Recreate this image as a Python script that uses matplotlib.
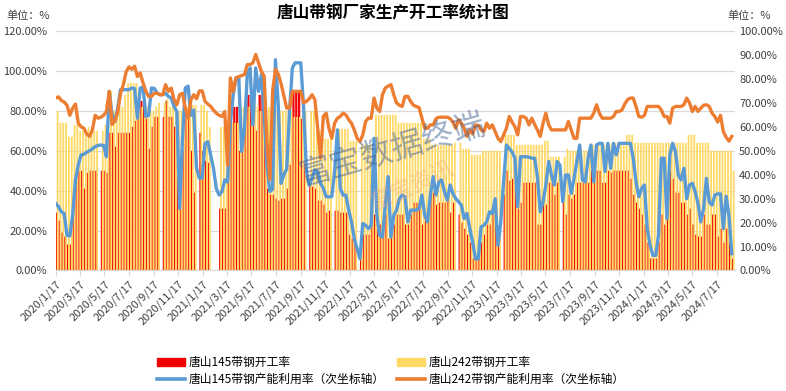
import matplotlib
matplotlib.use('Agg')
import matplotlib.pyplot as plt
import pandas as pd
from matplotlib.patches import Patch
from matplotlib.lines import Line2D
from matplotlib.ticker import FuncFormatter, MultipleLocator

plt.rcParams['font.family'] = ['Noto Sans CJK SC', 'DejaVu Sans']

# weekly data from 2020/1/17
start_date = '2020-01-17'

# 唐山145带钢开工率 (left axis, %)
rate_145 = [
    29, 25, 19, 17, 13, 13, 38, 46, 50, 50,
    41, 49, 50, 50, 50, 0, 50, 50, 49, 69,
    69, 62, 69, 69, 69, 69, 69, 72, 75, 78,
    85, 84, 76, 61, 72, 77, 77, 0, 77, 85,
    77, 77, 72, 71, 33, 60, 80, 76, 60, 39,
    0, 69, 60, 55, 54, 0, 0, 0, 31, 31,
    31, 54, 74, 82, 82, 60, 60, 82, 88, 88,
    81, 70, 88, 88, 80, 41, 38, 38, 36, 35,
    36, 36, 41, 53, 89, 89, 89, 76, 54, 0,
    42, 42, 41, 35, 35, 33, 29, 30, 0, 30,
    30, 29, 29, 29, 18, 16, 14, 0, 6, 18,
    18, 18, 24, 28, 23, 23, 23, 28, 16, 21,
    23, 28, 28, 28, 23, 23, 28, 34, 34, 34,
    23, 28, 28, 38, 39, 33, 34, 34, 34, 37,
    29, 34, 0, 28, 24, 21, 18, 14, 6, 6,
    6, 14, 18, 23, 23, 28, 28, 18, 0, 38,
    50, 45, 46, 44, 31, 34, 44, 44, 44, 44,
    44, 23, 23, 34, 33, 44, 44, 38, 44, 0,
    34, 28, 38, 36, 38, 44, 44, 44, 44, 44,
    50, 44, 50, 50, 44, 44, 50, 49, 50, 50,
    50, 50, 50, 50, 46, 38, 34, 31, 28, 23,
    14, 6, 6, 6, 14, 28, 23, 38, 50, 46,
    39, 39, 34, 34, 28, 31, 23, 18, 17, 17,
    28, 23, 23, 28, 28, 17, 21, 14, 21, 14,
    6,
]

# 唐山242带钢开工率 (left axis, %)
rate_242 = [
    80, 74, 74, 74, 67, 67, 73, 73, 70, 70,
    70, 72, 70, 70, 70, 0, 70, 73, 90, 90,
    80, 78, 82, 82, 88, 94, 94, 94, 94, 90,
    82, 80, 82, 80, 80, 82, 84, 0, 84, 86,
    82, 84, 84, 80, 80, 82, 82, 80, 83, 83,
    0, 83, 83, 80, 72, 0, 0, 0, 72, 72,
    76, 74, 74, 74, 74, 82, 82, 82, 82, 82,
    84, 82, 80, 80, 82, 82, 80, 80, 80, 80,
    80, 80, 80, 80, 77, 77, 77, 77, 80, 0,
    80, 80, 70, 70, 66, 66, 66, 66, 0, 64,
    71, 71, 71, 71, 65, 65, 65, 0, 63, 63,
    63, 63, 63, 78, 78, 78, 78, 78, 78, 78,
    78, 74, 74, 74, 74, 74, 74, 74, 74, 74,
    66, 66, 66, 63, 63, 63, 63, 63, 63, 63,
    63, 64, 0, 64, 61, 61, 61, 58, 58, 58,
    58, 60, 60, 60, 60, 60, 60, 60, 0, 68,
    68, 68, 68, 63, 63, 63, 63, 63, 63, 63,
    63, 63, 63, 65, 65, 57, 57, 57, 57, 0,
    57, 61, 60, 60, 60, 60, 60, 60, 60, 60,
    63, 63, 63, 63, 63, 63, 63, 64, 64, 64,
    64, 64, 68, 68, 68, 64, 64, 64, 64, 64,
    64, 64, 64, 64, 64, 64, 64, 64, 64, 64,
    64, 64, 64, 64, 68, 68, 68, 64, 64, 64,
    64, 64, 60, 60, 60, 60, 60, 60, 60, 60,
    50,
]

# 唐山145带钢产能利用率 (right axis, %)
util_145 = [
    28, 26.6, 24.5, 23.8, 14.7, 14.4, 23, 37.8, 44, 48.3,
    48.5, 49.4, 50, 50.8, 51.7, 52.2, 52.4, 52.2, 47.5, 74.8,
    65, 62.2, 67.8, 75.5, 75.5, 75.5, 75.5, 76.2, 76, 63.6,
    76.2, 76.5, 64.3, 64.8, 76.2, 76, 74, 73.4, 73.4, 74,
    72.7, 72, 68.5, 66.4, 25.9, 55, 76.2, 77, 64.8, 67,
    42.7, 38.5, 38.7, 53, 53.8, 48.3, 42.7, 34.3, 31.5, 32.9,
    37.8, 37, 61.5, 73.4, 80.4, 80.4, 49.7, 59.4, 81.8, 84.6,
    60.8, 84.6, 74.8, 81.8, 65, 44, 33, 34, 88, 69,
    36.4, 40, 42.4, 66.4, 84.6, 86.7, 86.7, 86.7, 67.8, 41.3,
    35.7, 38.5, 42, 41.3, 36.4, 34.3, 30.8, 30.8, 30.8, 41.3,
    58.7, 34.3, 31.5, 31.5, 25.2, 20.3, 13.3, 9.1, 4.9, 19.6,
    18.9, 17.5, 18.9, 55.2, 23, 14.7, 14, 27.3, 39.2, 14,
    23, 25.2, 30, 31.5, 30.8, 20.3, 25.2, 25.2, 25.2, 25.9,
    31.5, 23, 20.3, 31.5, 39.2, 31.5, 37, 37.8, 32.9, 29.4,
    35.7, 32.2, 30, 28.7, 27.3, 21.7, 23.8, 17.5, 11.9, 4.9,
    4.9, 18.2, 18.9, 20.3, 24.5, 23.8, 30, 10.5, 20.3, 37,
    52.4, 51, 49.5, 47, 26.6, 47.5, 47.5, 47.5, 47.3, 46.9,
    46.9, 39.2, 24.5, 28.7, 35.7, 45.5, 39.9, 35.7, 45.5, 44,
    28.7, 39.9, 39.9, 32.2, 38.5, 45.5, 52.4, 37.8, 37, 46.9,
    52.4, 37, 52.4, 53.1, 53.1, 41.3, 53.1, 42.7, 53.1, 48.3,
    53.1, 53.1, 53.1, 53.1, 53.1, 46.9, 37, 30.8, 34.3, 35.7,
    17.5, 10.5, 6.3, 6.3, 14.7, 46.9, 46.9, 21.7, 48.3, 53.1,
    49.7, 39.9, 37.8, 42.7, 30, 35.7, 36.4, 32.9, 28, 20.3,
    25.9, 38.5, 28.7, 27.3, 31.5, 32, 32, 17.5, 31, 23,
    7,
]

# 唐山242带钢产能利用率 (right axis, %)
util_242 = [
    72, 72.5, 71, 70.3, 69, 64.8, 67.8, 69.5, 61.5, 60,
    59.4, 57, 56, 58.7, 64.8, 63.6, 64, 64.8, 66.4, 74.8,
    61, 62.5, 66, 74, 77.6, 83, 85, 84, 85.3, 81,
    82.5, 78.3, 74.8, 72.7, 72.7, 74, 74, 73.4, 73.4, 77.6,
    74.8, 76.2, 71.3, 69.2, 73.4, 74, 67.8, 63.6, 71.3, 73.4,
    71.7, 75, 75, 70.6, 69.5, 68.5, 67, 65.7, 64.8, 64.3,
    66.4, 44, 80.4, 74.8, 80.4, 81, 81.4, 81.8, 86, 86,
    86.7, 90.2, 86.7, 83.2, 81, 53, 38, 75, 84, 82,
    78, 73, 67.8, 67.8, 74.8, 74.8, 74.8, 74.8, 70, 70.6,
    71.7, 73.4, 71.3, 59.4, 46.9, 64.3, 65.7, 59.4, 55.2, 61.5,
    63.6, 64.3, 65.7, 65, 63, 61.5, 58.7, 55.2, 53.8, 56.6,
    62.2, 63.6, 63.6, 72, 67.8, 66.4, 73.4, 76.2, 77, 77.6,
    73.4, 70, 69, 68.5, 72.7, 72.7, 70.6, 69, 68.5, 68,
    63.6, 59.4, 59.4, 60.8, 60.8, 63.4, 64, 64, 64, 64,
    63.4, 62, 59.4, 63, 61.5, 59.4, 56, 58.7, 57, 60.8,
    60.6, 58.7, 58, 61.5, 59.4, 60.8, 58, 55.2, 53.8, 56.6,
    59.4, 64.3, 62, 60, 56.6, 64.3, 64.3, 63.6, 60.8, 63.6,
    61, 58.7, 56, 61.5, 65.7, 60.8, 58.7, 58.7, 58.7, 58.7,
    58.7, 58.7, 62.2, 58.7, 55.2, 55.2, 63.6, 63.6, 63.6, 63.6,
    63.6, 65.7, 69.2, 65.7, 63.6, 63.6, 63.6, 63.6, 64.3, 66.4,
    66.4, 67, 69.5, 71.3, 72, 72, 68.5, 64.3, 64, 64.8,
    68.5, 68.5, 68.5, 68.5, 68.5, 67, 64.3, 64.3, 61.5, 67.8,
    68.5, 68.5, 68.5, 69.2, 72, 70, 66.4, 68.5, 66.4, 67.8,
    69, 69.2, 68.5, 65.7, 64.3, 62, 64.8, 58, 55.6, 54,
    56,
]

tick_labels = [f'{y}/{m}/17' for y in range(2020, 2025) for m in (1, 3, 5, 7, 9, 11)
               if not (y == 2024 and m > 7)]

dates = pd.date_range(start_date, periods=len(rate_145), freq='7D')
tick_pos = [pd.Timestamp(int(t.split('/')[0]), int(t.split('/')[1]), 17) for t in tick_labels]

c_red = '#F00000'
c_yellow = '#FFD966'
c_blue = '#5B9BD5'
c_orange = '#ED7D31'
txt = '#404040'

fig = plt.figure(figsize=(7.86, 3.91), dpi=100)
ax = fig.add_axes([0.0709, 0.3082, 0.8642, 0.6125])

# bars: red sits left, yellow overlaps it from the right
ax.bar(dates, rate_145, width=5.6, align='edge', color=c_red, zorder=2,
       linewidth=0, snap=False)
ax.bar(dates + pd.Timedelta(days=2.5), rate_242, width=4.5, align='edge',
       color=c_yellow, zorder=3, linewidth=0, snap=False)

ax.set_ylim(0, 120)
ax.yaxis.set_major_locator(MultipleLocator(20))
ax.yaxis.set_major_formatter(FuncFormatter(lambda v, p: f'{v:.2f}%'))
ax.yaxis.grid(True, color='#D9D9D9', linewidth=0.9)
ax.set_axisbelow(True)
ax.set_xlim(pd.Timestamp('2020-01-17'), pd.Timestamp('2024-08-31'))
ax.set_xticks(tick_pos)
ax.set_xticklabels(tick_labels, rotation=45, ha='right', rotation_mode='anchor')
ax.tick_params(axis='x', length=4, color='#D9D9D9', labelsize=8, labelcolor=txt, pad=2)
ax.tick_params(axis='y', length=0, labelsize=8, labelcolor=txt, pad=6)
for s in ['top', 'right', 'left']:
    ax.spines[s].set_visible(False)
ax.spines['bottom'].set_color('#D9D9D9')

ax2 = ax.twinx()
ax2.plot(dates, util_145, color=c_blue, linewidth=2.4, solid_joinstyle='round', zorder=4)
ax2.plot(dates, util_242, color=c_orange, linewidth=2.4, solid_joinstyle='round', zorder=5)
ax2.set_ylim(0, 100)
ax2.yaxis.set_major_locator(MultipleLocator(10))
ax2.yaxis.set_major_formatter(FuncFormatter(lambda v, p: f'{v:.2f}%'))
ax2.tick_params(axis='y', length=0, labelsize=8, labelcolor=txt, pad=3)
for s in ax2.spines.values():
    s.set_visible(False)

fig.text(0.5, 1 - 13 / 391, '唐山带钢厂家生产开工率统计图', ha='center', va='center',
         fontsize=12, fontweight='bold', color='#000000')
fig.text(6 / 786, 1 - 16 / 391, '单位：%', ha='left', va='center', fontsize=8, color=txt)
fig.text(727 / 786, 1 - 16 / 391, '单位：%', ha='left', va='center', fontsize=8, color=txt)

# watermark
fig.text(392 / 786, 1 - 150 / 391, '富宝数据终端', ha='center', va='center', fontsize=23,
         color='#3F5F8F', alpha=0.5, rotation=16)
fig.text(412 / 786, 1 - 185 / 391, '富宝资讯', ha='center', va='center', fontsize=16,
         color='#E8A080', alpha=0.35, rotation=25)

handles = [Patch(color=c_red), Line2D([], [], color=c_blue, lw=2.6),
           Patch(color=c_yellow), Line2D([], [], color=c_orange, lw=2.6)]
labels = ['唐山145带钢开工率', '唐山145带钢产能利用率（次坐标轴）',
          '唐山242带钢开工率', '唐山242带钢产能利用率（次坐标轴）']
fig.legend(handles, labels, ncol=2, loc='center', bbox_to_anchor=(0.497, 1 - 371 / 391),
           frameon=False, fontsize=8.5, handlelength=2.4, handleheight=0.6,
           columnspacing=1.0, labelspacing=0.3, handletextpad=0.3)

fig.savefig('out.png', dpi=100)
